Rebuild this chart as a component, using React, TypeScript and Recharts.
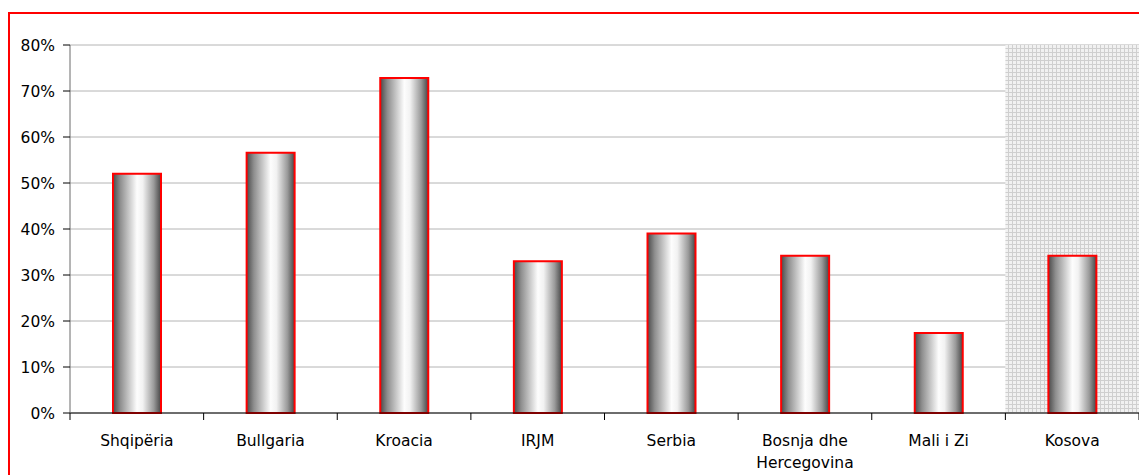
import React from "react";
import {
  BarChart,
  Bar,
  XAxis,
  YAxis,
  CartesianGrid,
  ReferenceArea,
  Text,
} from "recharts";

const countries = [
  "Shqipëria",
  "Bullgaria",
  "Kroacia",
  "IRJM",
  "Serbia",
  "Bosnja dhe Hercegovina",
  "Mali i Zi",
  "Kosova",
];
const shares = [0.52, 0.566, 0.728, 0.33, 0.39, 0.342, 0.174, 0.342];
const yTicks = [0, 0.1, 0.2, 0.3, 0.4, 0.5, 0.6, 0.7, 0.8];

const data = countries.map((name, i) => ({ name, value: shares[i] }));

const W = 1139;
const H = 475;
const LEFT = 70;
const STEP = (W - LEFT) / countries.length;
const FONT = "'DejaVu Sans', Verdana, sans-serif";

const CountryTick = (props: any) => {
  const { x, y, payload, index } = props;
  const left = x - STEP / 2;
  return (
    <g>
      <line x1={left} y1={y - 8} x2={left} y2={y - 1} stroke="#000" />
      {index === countries.length - 1 && (
        <line x1={left + STEP} y1={y - 8} x2={left + STEP} y2={y - 1} stroke="#000" />
      )}
      <Text
        x={x}
        y={y + 14}
        width={STEP}
        textAnchor="middle"
        verticalAnchor="start"
        lineHeight={22}
        fontSize={15.5}
        fontFamily={FONT}
        fill="#000"
      >
        {payload.value}
      </Text>
    </g>
  );
};

const PercentTick = (props: any) => {
  const { y, payload } = props;
  return (
    <text
      x={LEFT - 15}
      y={y}
      dy={5.5}
      textAnchor="end"
      fontSize={15.5}
      fontFamily={FONT}
      fill="#000"
    >
      {`${Math.round(payload.value * 100)}%`}
    </text>
  );
};

export default function App() {
  return (
    <div style={{ position: "absolute", left: 0, top: 0, width: W, height: H, overflow: "hidden" }}>
      <div
        style={{
          position: "absolute",
          left: 8,
          top: 12,
          width: W,
          height: H,
          border: "2px solid #ff0000",
        }}
      />
      <BarChart
        width={W}
        height={H}
        data={data}
        barSize={48}
        margin={{ top: 45, right: 0, bottom: 0, left: 0 }}
        style={{ position: "absolute", left: 0, top: 0 }}
      >
        <defs>
          <linearGradient id="cyl" x1="0" y1="0" x2="1" y2="0">
            <stop offset="0" stopColor="#4a4a4a" />
            <stop offset="0.15" stopColor="#8e8e8e" />
            <stop offset="0.5" stopColor="#fdfdfd" />
            <stop offset="0.62" stopColor="#f2f2f2" />
            <stop offset="0.85" stopColor="#9a9a9a" />
            <stop offset="1" stopColor="#454545" />
          </linearGradient>
          <pattern id="mesh" width="4" height="4" patternUnits="userSpaceOnUse">
            <rect width="4" height="4" fill="#f1f1f1" />
            <path d="M0 0.5H4M0.5 0V4" stroke="#cfcfcf" strokeWidth="1" />
          </pattern>
        </defs>
        <ReferenceArea
          x1="Kosova"
          x2="Kosova"
          y1={0}
          y2={0.8}
          fill="url(#mesh)"
          fillOpacity={1}
          stroke="none"
        />
        <CartesianGrid vertical={false} stroke="#b4b4b4" />
        <XAxis
          dataKey="name"
          interval={0}
          height={62}
          axisLine={{ stroke: "#000" }}
          tickLine={false}
          tick={<CountryTick />}
        />
        <YAxis
          width={LEFT}
          domain={[0, 0.8]}
          ticks={yTicks}
          interval={0}
          axisLine={{ stroke: "#6a6a6a" }}
          tickLine={{ stroke: "#000" }}
          tickSize={7}
          tick={<PercentTick />}
        />
        <Bar
          dataKey="value"
          fill="url(#cyl)"
          stroke="#ff0000"
          strokeWidth={2}
          isAnimationActive={false}
        />
      </BarChart>
    </div>
  );
}
